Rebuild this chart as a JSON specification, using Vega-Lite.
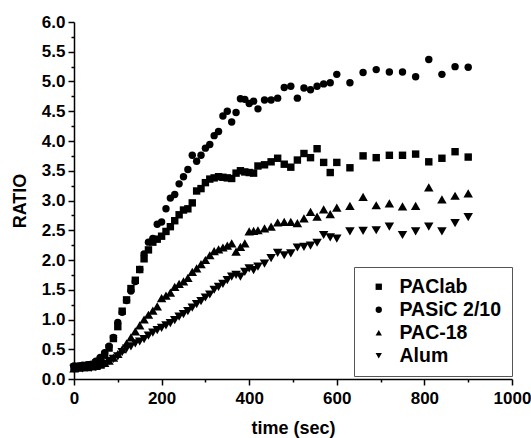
{
  "$schema": "https://vega.github.io/schema/vega-lite/v6.json",
  "width": 438,
  "height": 357,
  "autosize": {"type": "none"},
  "padding": {"left": 74, "top": 22, "right": 19, "bottom": 59},
  "background": "white",
  "config": {"view": {"stroke": null}, "font": "Liberation Sans"},
  "data": {"values": [
{"t":0,"s":"PASiC 2/10","v":0.22},{"t":10,"s":"PASiC 2/10","v":0.22},{"t":20,"s":"PASiC 2/10","v":0.23},{"t":30,"s":"PASiC 2/10","v":0.24},{"t":40,"s":"PASiC 2/10","v":0.25},{"t":50,"s":"PASiC 2/10","v":0.30},{"t":60,"s":"PASiC 2/10","v":0.36},{"t":70,"s":"PASiC 2/10","v":0.44},{"t":80,"s":"PASiC 2/10","v":0.55},{"t":90,"s":"PASiC 2/10","v":0.70},{"t":100,"s":"PASiC 2/10","v":0.95},{"t":110,"s":"PASiC 2/10","v":1.12},{"t":120,"s":"PASiC 2/10","v":1.32},{"t":130,"s":"PASiC 2/10","v":1.48},{"t":140,"s":"PASiC 2/10","v":1.64},{"t":150,"s":"PASiC 2/10","v":1.84},{"t":160,"s":"PASiC 2/10","v":2.10},{"t":170,"s":"PASiC 2/10","v":2.30},{"t":180,"s":"PASiC 2/10","v":2.36},{"t":190,"s":"PASiC 2/10","v":2.60},{"t":200,"s":"PASiC 2/10","v":2.64},{"t":210,"s":"PASiC 2/10","v":2.86},{"t":220,"s":"PASiC 2/10","v":3.04},{"t":230,"s":"PASiC 2/10","v":3.10},{"t":240,"s":"PASiC 2/10","v":3.28},{"t":250,"s":"PASiC 2/10","v":3.40},{"t":260,"s":"PASiC 2/10","v":3.52},{"t":270,"s":"PASiC 2/10","v":3.76},{"t":280,"s":"PASiC 2/10","v":3.66},{"t":290,"s":"PASiC 2/10","v":3.76},{"t":300,"s":"PASiC 2/10","v":3.88},{"t":310,"s":"PASiC 2/10","v":3.94},{"t":320,"s":"PASiC 2/10","v":4.09},{"t":330,"s":"PASiC 2/10","v":4.16},{"t":340,"s":"PASiC 2/10","v":4.42},{"t":350,"s":"PASiC 2/10","v":4.50},{"t":360,"s":"PASiC 2/10","v":4.32},{"t":370,"s":"PASiC 2/10","v":4.48},{"t":380,"s":"PASiC 2/10","v":4.71},{"t":390,"s":"PASiC 2/10","v":4.70},{"t":400,"s":"PASiC 2/10","v":4.63},{"t":410,"s":"PASiC 2/10","v":4.67},{"t":420,"s":"PASiC 2/10","v":4.54},{"t":435,"s":"PASiC 2/10","v":4.69},{"t":450,"s":"PASiC 2/10","v":4.69},{"t":465,"s":"PASiC 2/10","v":4.72},{"t":480,"s":"PASiC 2/10","v":4.90},{"t":495,"s":"PASiC 2/10","v":4.92},{"t":510,"s":"PASiC 2/10","v":4.72},{"t":525,"s":"PASiC 2/10","v":4.89},{"t":540,"s":"PASiC 2/10","v":4.86},{"t":555,"s":"PASiC 2/10","v":4.92},{"t":570,"s":"PASiC 2/10","v":4.96},{"t":585,"s":"PASiC 2/10","v":4.98},{"t":600,"s":"PASiC 2/10","v":5.12},{"t":630,"s":"PASiC 2/10","v":4.98},{"t":660,"s":"PASiC 2/10","v":5.15},{"t":690,"s":"PASiC 2/10","v":5.20},{"t":720,"s":"PASiC 2/10","v":5.16},{"t":750,"s":"PASiC 2/10","v":5.16},{"t":780,"s":"PASiC 2/10","v":5.08},{"t":810,"s":"PASiC 2/10","v":5.37},{"t":840,"s":"PASiC 2/10","v":5.12},{"t":870,"s":"PASiC 2/10","v":5.25},{"t":900,"s":"PASiC 2/10","v":5.24},
{"t":0,"s":"PAClab","v":0.20},{"t":10,"s":"PAClab","v":0.21},{"t":20,"s":"PAClab","v":0.22},{"t":30,"s":"PAClab","v":0.22},{"t":40,"s":"PAClab","v":0.24},{"t":50,"s":"PAClab","v":0.27},{"t":60,"s":"PAClab","v":0.32},{"t":70,"s":"PAClab","v":0.40},{"t":80,"s":"PAClab","v":0.52},{"t":90,"s":"PAClab","v":0.68},{"t":100,"s":"PAClab","v":0.88},{"t":110,"s":"PAClab","v":1.14},{"t":120,"s":"PAClab","v":1.33},{"t":130,"s":"PAClab","v":1.52},{"t":140,"s":"PAClab","v":1.66},{"t":150,"s":"PAClab","v":1.84},{"t":160,"s":"PAClab","v":2.02},{"t":170,"s":"PAClab","v":2.17},{"t":180,"s":"PAClab","v":2.30},{"t":190,"s":"PAClab","v":2.35},{"t":200,"s":"PAClab","v":2.40},{"t":210,"s":"PAClab","v":2.48},{"t":220,"s":"PAClab","v":2.56},{"t":230,"s":"PAClab","v":2.66},{"t":240,"s":"PAClab","v":2.76},{"t":250,"s":"PAClab","v":2.84},{"t":260,"s":"PAClab","v":2.86},{"t":270,"s":"PAClab","v":2.96},{"t":280,"s":"PAClab","v":3.16},{"t":290,"s":"PAClab","v":3.20},{"t":300,"s":"PAClab","v":3.30},{"t":310,"s":"PAClab","v":3.36},{"t":320,"s":"PAClab","v":3.38},{"t":330,"s":"PAClab","v":3.40},{"t":340,"s":"PAClab","v":3.39},{"t":350,"s":"PAClab","v":3.38},{"t":360,"s":"PAClab","v":3.37},{"t":370,"s":"PAClab","v":3.46},{"t":380,"s":"PAClab","v":3.50},{"t":390,"s":"PAClab","v":3.48},{"t":400,"s":"PAClab","v":3.47},{"t":410,"s":"PAClab","v":3.46},{"t":420,"s":"PAClab","v":3.58},{"t":435,"s":"PAClab","v":3.60},{"t":450,"s":"PAClab","v":3.65},{"t":465,"s":"PAClab","v":3.71},{"t":480,"s":"PAClab","v":3.61},{"t":495,"s":"PAClab","v":3.56},{"t":510,"s":"PAClab","v":3.68},{"t":525,"s":"PAClab","v":3.79},{"t":540,"s":"PAClab","v":3.72},{"t":555,"s":"PAClab","v":3.87},{"t":570,"s":"PAClab","v":3.64},{"t":585,"s":"PAClab","v":3.47},{"t":600,"s":"PAClab","v":3.64},{"t":630,"s":"PAClab","v":3.55},{"t":660,"s":"PAClab","v":3.75},{"t":690,"s":"PAClab","v":3.72},{"t":720,"s":"PAClab","v":3.76},{"t":750,"s":"PAClab","v":3.76},{"t":780,"s":"PAClab","v":3.78},{"t":810,"s":"PAClab","v":3.65},{"t":840,"s":"PAClab","v":3.71},{"t":870,"s":"PAClab","v":3.82},{"t":900,"s":"PAClab","v":3.73},
{"t":0,"s":"PAC-18","v":0.18},{"t":10,"s":"PAC-18","v":0.19},{"t":20,"s":"PAC-18","v":0.20},{"t":30,"s":"PAC-18","v":0.20},{"t":40,"s":"PAC-18","v":0.21},{"t":50,"s":"PAC-18","v":0.22},{"t":60,"s":"PAC-18","v":0.24},{"t":70,"s":"PAC-18","v":0.27},{"t":80,"s":"PAC-18","v":0.31},{"t":90,"s":"PAC-18","v":0.36},{"t":100,"s":"PAC-18","v":0.42},{"t":110,"s":"PAC-18","v":0.50},{"t":120,"s":"PAC-18","v":0.60},{"t":130,"s":"PAC-18","v":0.70},{"t":140,"s":"PAC-18","v":0.80},{"t":150,"s":"PAC-18","v":0.90},{"t":160,"s":"PAC-18","v":1.00},{"t":170,"s":"PAC-18","v":1.08},{"t":180,"s":"PAC-18","v":1.15},{"t":190,"s":"PAC-18","v":1.22},{"t":200,"s":"PAC-18","v":1.36},{"t":210,"s":"PAC-18","v":1.40},{"t":220,"s":"PAC-18","v":1.45},{"t":230,"s":"PAC-18","v":1.55},{"t":240,"s":"PAC-18","v":1.60},{"t":250,"s":"PAC-18","v":1.64},{"t":260,"s":"PAC-18","v":1.70},{"t":270,"s":"PAC-18","v":1.80},{"t":280,"s":"PAC-18","v":1.86},{"t":290,"s":"PAC-18","v":1.93},{"t":300,"s":"PAC-18","v":2.00},{"t":310,"s":"PAC-18","v":2.08},{"t":320,"s":"PAC-18","v":2.15},{"t":330,"s":"PAC-18","v":2.18},{"t":340,"s":"PAC-18","v":2.21},{"t":350,"s":"PAC-18","v":2.24},{"t":360,"s":"PAC-18","v":2.28},{"t":370,"s":"PAC-18","v":2.14},{"t":380,"s":"PAC-18","v":2.22},{"t":390,"s":"PAC-18","v":2.28},{"t":400,"s":"PAC-18","v":2.48},{"t":410,"s":"PAC-18","v":2.49},{"t":420,"s":"PAC-18","v":2.50},{"t":435,"s":"PAC-18","v":2.53},{"t":450,"s":"PAC-18","v":2.56},{"t":465,"s":"PAC-18","v":2.63},{"t":480,"s":"PAC-18","v":2.64},{"t":495,"s":"PAC-18","v":2.64},{"t":510,"s":"PAC-18","v":2.62},{"t":525,"s":"PAC-18","v":2.70},{"t":540,"s":"PAC-18","v":2.81},{"t":555,"s":"PAC-18","v":2.73},{"t":570,"s":"PAC-18","v":2.85},{"t":585,"s":"PAC-18","v":2.77},{"t":600,"s":"PAC-18","v":2.88},{"t":630,"s":"PAC-18","v":2.91},{"t":660,"s":"PAC-18","v":3.06},{"t":690,"s":"PAC-18","v":2.92},{"t":720,"s":"PAC-18","v":2.95},{"t":750,"s":"PAC-18","v":2.90},{"t":780,"s":"PAC-18","v":2.91},{"t":810,"s":"PAC-18","v":3.22},{"t":840,"s":"PAC-18","v":3.02},{"t":870,"s":"PAC-18","v":3.08},{"t":900,"s":"PAC-18","v":3.12},
{"t":0,"s":"Alum","v":0.17},{"t":10,"s":"Alum","v":0.18},{"t":20,"s":"Alum","v":0.18},{"t":30,"s":"Alum","v":0.19},{"t":40,"s":"Alum","v":0.19},{"t":50,"s":"Alum","v":0.20},{"t":60,"s":"Alum","v":0.22},{"t":70,"s":"Alum","v":0.25},{"t":80,"s":"Alum","v":0.30},{"t":90,"s":"Alum","v":0.34},{"t":100,"s":"Alum","v":0.38},{"t":110,"s":"Alum","v":0.45},{"t":120,"s":"Alum","v":0.51},{"t":130,"s":"Alum","v":0.55},{"t":140,"s":"Alum","v":0.60},{"t":150,"s":"Alum","v":0.63},{"t":160,"s":"Alum","v":0.67},{"t":170,"s":"Alum","v":0.73},{"t":180,"s":"Alum","v":0.78},{"t":190,"s":"Alum","v":0.82},{"t":200,"s":"Alum","v":0.86},{"t":210,"s":"Alum","v":0.90},{"t":220,"s":"Alum","v":0.94},{"t":230,"s":"Alum","v":0.99},{"t":240,"s":"Alum","v":1.05},{"t":250,"s":"Alum","v":1.09},{"t":260,"s":"Alum","v":1.14},{"t":270,"s":"Alum","v":1.20},{"t":280,"s":"Alum","v":1.26},{"t":290,"s":"Alum","v":1.31},{"t":300,"s":"Alum","v":1.37},{"t":310,"s":"Alum","v":1.42},{"t":320,"s":"Alum","v":1.50},{"t":330,"s":"Alum","v":1.55},{"t":340,"s":"Alum","v":1.60},{"t":350,"s":"Alum","v":1.66},{"t":360,"s":"Alum","v":1.72},{"t":370,"s":"Alum","v":1.75},{"t":380,"s":"Alum","v":1.72},{"t":390,"s":"Alum","v":1.80},{"t":400,"s":"Alum","v":1.86},{"t":410,"s":"Alum","v":1.83},{"t":420,"s":"Alum","v":1.89},{"t":435,"s":"Alum","v":1.94},{"t":450,"s":"Alum","v":2.03},{"t":465,"s":"Alum","v":2.12},{"t":480,"s":"Alum","v":2.08},{"t":495,"s":"Alum","v":2.11},{"t":510,"s":"Alum","v":2.21},{"t":525,"s":"Alum","v":2.22},{"t":540,"s":"Alum","v":2.24},{"t":555,"s":"Alum","v":2.29},{"t":570,"s":"Alum","v":2.42},{"t":585,"s":"Alum","v":2.38},{"t":600,"s":"Alum","v":2.36},{"t":630,"s":"Alum","v":2.48},{"t":660,"s":"Alum","v":2.49},{"t":690,"s":"Alum","v":2.50},{"t":720,"s":"Alum","v":2.56},{"t":750,"s":"Alum","v":2.42},{"t":780,"s":"Alum","v":2.48},{"t":810,"s":"Alum","v":2.56},{"t":840,"s":"Alum","v":2.48},{"t":870,"s":"Alum","v":2.62},{"t":900,"s":"Alum","v":2.72}
  ]},
  "resolve": {"axis": {"x": "independent", "y": "independent"}},
  "layer": [
    {
      "mark": {"type": "point", "opacity": 0},
      "encoding": {
        "x": {
          "field": "t", "type": "quantitative",
          "scale": {"domain": [0, 1000], "nice": false, "zero": false},
          "axis": {
            "orient": "bottom", "title": null, "values": [100, 300, 500, 700, 900],
            "labels": false, "domain": false, "grid": false,
            "tickSize": 3, "tickColor": "black", "tickWidth": 1.5
          }
        },
        "y": {
          "field": "v", "type": "quantitative",
          "scale": {"domain": [0, 6], "nice": false, "zero": false},
          "axis": {
            "orient": "left", "title": null,
            "values": [0.25,0.75,1.25,1.75,2.25,2.75,3.25,3.75,4.25,4.75,5.25,5.75],
            "labels": false, "domain": false, "grid": false,
            "tickSize": 3, "tickColor": "black", "tickWidth": 1.5
          }
        }
      }
    },
    {
      "mark": {"type": "point", "filled": true, "opacity": 1},
      "encoding": {
        "x": {
          "field": "t", "type": "quantitative",
          "axis": {
            "orient": "bottom", "title": "time (sec)",
            "values": [0, 200, 400, 600, 800, 1000],
            "format": "d", "tickSize": 6, "grid": false,
            "domainColor": "black", "domainWidth": 1.5,
            "tickColor": "black", "tickWidth": 1.5,
            "labelFont": "Liberation Sans", "labelFontWeight": "bold", "labelFontSize": 17, "labelColor": "black",
            "labelPadding": 5, "labelOverlap": false, "labelFlush": false,
            "titleFont": "Liberation Sans", "titleFontWeight": "bold", "titleFontSize": 18, "titleColor": "black",
            "titlePadding": 13
          }
        },
        "y": {
          "field": "v", "type": "quantitative",
          "axis": {
            "orient": "left", "title": "RATIO",
            "values": [0, 0.5, 1, 1.5, 2, 2.5, 3, 3.5, 4, 4.5, 5, 5.5, 6],
            "format": ".1f", "tickSize": 6, "grid": false,
            "domainColor": "black", "domainWidth": 1.5,
            "tickColor": "black", "tickWidth": 1.5,
            "labelFont": "Liberation Sans", "labelFontWeight": "bold", "labelFontSize": 17, "labelColor": "black",
            "labelPadding": 3, "labelOverlap": false, "labelFlush": false,
            "titleFont": "Liberation Sans", "titleFontWeight": "bold", "titleFontSize": 18, "titleColor": "black",
            "titlePadding": 12
          }
        },
        "size": {"condition": {"test": "datum.s === 'PAC-18' || datum.s === 'Alum'", "value": 90}, "value": 55},
        "shape": {
          "field": "s", "type": "nominal",
          "scale": {"domain": ["PAClab", "PASiC 2/10", "PAC-18", "Alum"], "range": ["square", "circle", "triangle-up", "triangle-down"]},
          "legend": {
            "orient": "none", "legendX": 280, "legendY": 245, "title": null, "direction": "vertical",
            "strokeColor": "#555555", "fillColor": "white", "padding": 10,
            "symbolSize": 40, "symbolFillColor": "black", "symbolStrokeColor": "black",
            "symbolOffset": 5, "labelOffset": 11, "rowPadding": 2,
            "labelFont": "Liberation Sans", "labelFontWeight": "bold", "labelFontSize": 19.5, "labelColor": "black", "labelLimit": 200
          }
        },
        "color": {"value": "black"}
      }
    }
  ]
}
